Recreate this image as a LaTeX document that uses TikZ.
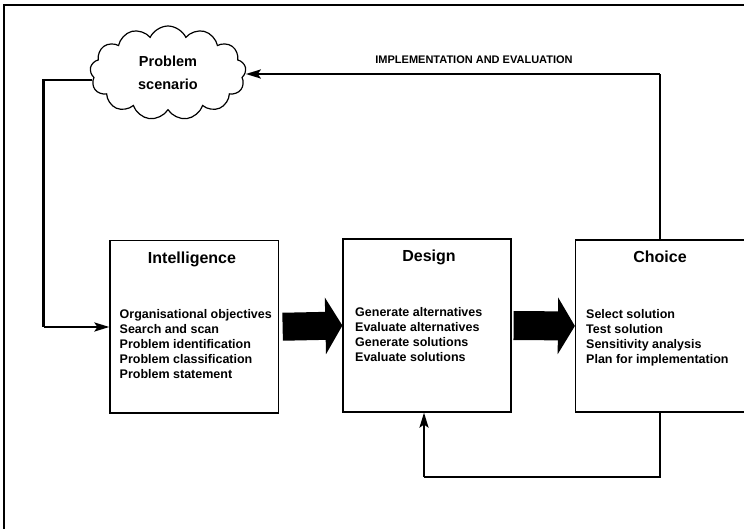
\documentclass[tikz,border=0pt]{standalone}
\usepackage{fontspec}
\setmainfont{Liberation Sans}
\usetikzlibrary{arrows.meta,shapes.symbols,calc}
\begin{document}
\begin{tikzpicture}[x=1pt,y=-1pt,
  frameline/.style={line width=2.4pt},
  stagebox/.style={draw,line width=1.2pt,fill=white,inner sep=0pt},
  conn/.style={line width=2.3pt,-{Stealth[length=15pt,width=9pt,inset=3pt]}},
  plainconn/.style={line width=2.3pt},
  blockarrow/.style={line width=28pt,-{Triangle[length=17pt,width=56pt]}},
  stagetitle/.style={font=\bfseries\fontsize{16}{18}\selectfont,inner sep=0pt,anchor=base},
  itemlist/.style={font=\bfseries\fontsize{12.5}{15}\selectfont,align=left,inner sep=0pt,anchor=north west},
  toplabel/.style={font=\bfseries\fontsize{11}{13}\selectfont,inner sep=0pt,anchor=base}
]
\useasboundingbox (0,0) rectangle (744,529);
\fill[white] (0,0) rectangle (744,529);
% outer frame
\draw[frameline] (4,535) -- (4,5) -- (750,5);

% cloud
\node[cloud,draw,line width=1.2pt,cloud puffs=13,cloud puff arc=130,aspect=1.6,
      minimum width=156pt,minimum height=94pt,inner sep=0pt,
      font=\bfseries\fontsize{14.5}{23}\selectfont,align=center] (cloud) at (168,73) {Problem\\scenario};

% stage boxes
\node[stagebox,minimum width=168.5pt,minimum height=172.5pt] (intel) at (194.25,326.75) {};
\node[stagebox,minimum width=168pt,minimum height=173pt] (design) at (427,325.5) {};
\node[stagebox,minimum width=171pt,minimum height=172pt] (choice) at (661,326) {};

% titles
\node[stagetitle] (intelT) at (192,264) {Intelligence};
\node[stagetitle] (designT) at (429,262) {Design};
\node[stagetitle] (choiceT) at (660,263) {Choice};

% item lists
\node[itemlist] (intelL) at (119.5,309.5) {Organisational objectives\\Search and scan\\Problem identification\\Problem classification\\Problem statement};
\node[itemlist] (designL) at (355,307.5) {Generate alternatives\\Evaluate alternatives\\Generate solutions\\Evaluate solutions};
\node[itemlist] (choiceL) at (586,309.5) {Select solution\\Test solution\\Sensitivity analysis\\Plan for implementation};

% block arrows
\draw[blockarrow] ([xshift=3.5pt]intel.east) -- (design.west);
\draw[blockarrow,line width=29pt] ([xshift=2pt]design.east) -- (choice.west);

% connectors
\coordinate (lefttop) at (43.5,80);
\coordinate (leftbot) at (43.5,327);
\draw[plainconn] ([xshift=2pt]cloud.west |- lefttop) -- (lefttop) -- (leftbot);
\draw[conn] (leftbot) -- (intel.west |- leftbot);

\coordinate (rtop) at (660,74);
\draw[plainconn] (choice.north -| rtop) -- (rtop);
\draw[conn] (rtop) -- (cloud.east |- rtop);
\node[toplabel] (impl) at (474,64) {IMPLEMENTATION AND EVALUATION};

\coordinate (brc) at (660,477);
\coordinate (blc) at (424,477);
\draw[plainconn] (choice.south -| brc) -- (brc) -- (blc);
\draw[conn] (blc) -- (design.south -| blc);
\end{tikzpicture}
\end{document}
